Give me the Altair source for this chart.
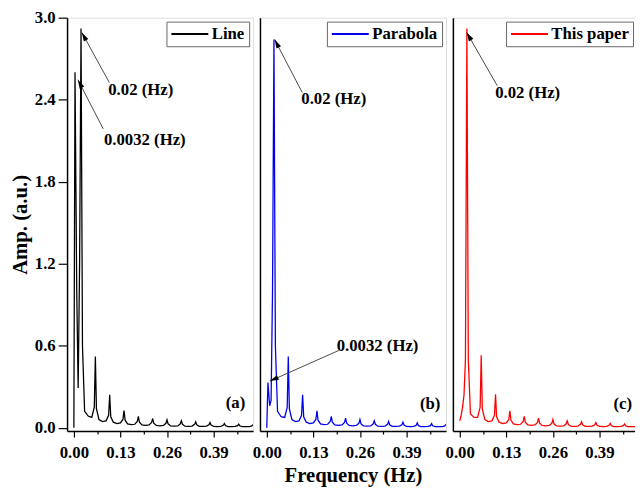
import math
import altair as alt
import pandas as pd

FONT = "Liberation Serif"

# ---------------- data ----------------
freq = [0.0, 0.0032, 0.008, 0.012, 0.016, 0.02, 0.024, 0.03, 0.04,
        0.05, 0.057, 0.06, 0.063, 0.07, 0.08,
        0.09, 0.097, 0.10, 0.103, 0.11, 0.12,
        0.13, 0.137, 0.14, 0.143, 0.15, 0.16,
        0.17, 0.177, 0.18, 0.183, 0.19, 0.20,
        0.21, 0.217, 0.22, 0.223, 0.23, 0.24,
        0.25, 0.257, 0.26, 0.263, 0.27, 0.28,
        0.29, 0.297, 0.30, 0.303, 0.31, 0.32,
        0.33, 0.337, 0.34, 0.343, 0.35, 0.36,
        0.37, 0.377, 0.38, 0.383, 0.39, 0.40,
        0.41, 0.417, 0.42, 0.423, 0.43, 0.44,
        0.45, 0.457, 0.46, 0.463, 0.47, 0.48,
        0.49, 0.497, 0.50]

amp_line = [0.0, 2.60, 1.00, 0.29, 1.20, 2.92, 0.60, 0.12, 0.085,
            0.075, 0.15, 0.52, 0.14, 0.06, 0.045,
            0.05, 0.09, 0.24, 0.08, 0.04, 0.03,
            0.035, 0.06, 0.125, 0.055, 0.028, 0.022,
            0.025, 0.045, 0.083, 0.04, 0.02, 0.017,
            0.02, 0.038, 0.067, 0.033, 0.016, 0.014,
            0.016, 0.032, 0.058, 0.028, 0.013, 0.011,
            0.013, 0.028, 0.05, 0.025, 0.011, 0.01,
            0.012, 0.024, 0.043, 0.021, 0.01, 0.009,
            0.011, 0.021, 0.037, 0.019, 0.009, 0.008,
            0.01, 0.018, 0.031, 0.016, 0.008, 0.007,
            0.009, 0.015, 0.026, 0.014, 0.008, 0.007,
            0.008, 0.013, 0.022]

amp_parabola = [0.0, 0.33, 0.16, 0.20, 1.00, 2.84, 0.60, 0.12, 0.08,
                0.075, 0.15, 0.52, 0.14, 0.06, 0.045,
                0.05, 0.09, 0.24, 0.08, 0.04, 0.03,
                0.035, 0.06, 0.124, 0.055, 0.028, 0.022,
                0.025, 0.045, 0.083, 0.04, 0.02, 0.017,
                0.02, 0.038, 0.07, 0.033, 0.016, 0.014,
                0.016, 0.032, 0.06, 0.028, 0.013, 0.011,
                0.013, 0.028, 0.05, 0.025, 0.011, 0.01,
                0.012, 0.024, 0.045, 0.021, 0.01, 0.009,
                0.011, 0.021, 0.04, 0.019, 0.009, 0.008,
                0.01, 0.018, 0.035, 0.016, 0.008, 0.007,
                0.009, 0.015, 0.03, 0.014, 0.008, 0.007,
                0.008, 0.013, 0.025]

amp_paper = [0.05, 0.08, 0.15, 0.24, 0.50, 2.92, 0.50, 0.10, 0.075,
             0.075, 0.15, 0.53, 0.14, 0.06, 0.045,
             0.05, 0.09, 0.245, 0.08, 0.04, 0.03,
             0.035, 0.06, 0.124, 0.055, 0.028, 0.022,
             0.025, 0.045, 0.083, 0.04, 0.02, 0.017,
             0.02, 0.038, 0.07, 0.033, 0.016, 0.014,
             0.016, 0.032, 0.06, 0.028, 0.013, 0.011,
             0.013, 0.028, 0.05, 0.025, 0.011, 0.01,
             0.012, 0.024, 0.043, 0.021, 0.01, 0.009,
             0.011, 0.021, 0.037, 0.019, 0.009, 0.008,
             0.01, 0.018, 0.032, 0.016, 0.008, 0.007,
             0.009, 0.015, 0.027, 0.014, 0.008, 0.007,
             0.008, 0.013, 0.022]

series_names = ["Line", "Parabola", "This paper"]
series_colors = ["#000000", "#0000ee", "#ff0000"]
panel_labels = ["(a)", "(b)", "(c)"]

# annotations: text, text position, arrow tail, arrow tip (data units)
ann_a_text = ["0.02 (Hz)", "0.0032 (Hz)"]
ann_a_tx = [0.096, 0.084]
ann_a_ty = [2.467, 2.107]
ann_a_x0 = [0.099, 0.082]
ann_a_y0 = [2.525, 2.186]
ann_a_x1 = [0.0222, 0.0112]
ann_a_y1 = [2.892, 2.546]

ann_b_text = ["0.02 (Hz)", "0.0032 (Hz)"]
ann_b_tx = [0.0964, 0.195]
ann_b_ty = [2.402, 0.594]
ann_b_x0 = [0.099, 0.201]
ann_b_y0 = [2.452, 0.565]
ann_b_x1 = [0.022, 0.0085]
ann_b_y1 = [2.84, 0.341]

ann_c_text = ["0.02 (Hz)"]
ann_c_tx = [0.099]
ann_c_ty = [2.445]
ann_c_x0 = [0.1046]
ann_c_y0 = [2.503]
ann_c_x1 = [0.0195]
ann_c_y1 = [2.892]

label_x = [0.451, 0.456, 0.455]
label_y = [0.183, 0.176, 0.176]

x_ticks = [0.0, 0.065, 0.13, 0.195, 0.26, 0.325, 0.39, 0.455]
y_ticks = [0.0, 0.6, 1.2, 1.8, 2.4, 3.0]

# ---------------- layout ----------------
XMIN = -0.019
YMIN, YMAX = -0.025, 3.0
H = 420
widths = [189, 189, 187]
xmaxes = [XMIN + w / 364.0 for w in widths]

MAJOR_TEST = "round(datum.value*1000) % 130 == 0"


def make_panel(i, amps, ann, show_y, x_title):
    name = series_names[i]
    color = series_colors[i]
    xs = alt.Scale(domain=[XMIN, xmaxes[i]], nice=False, zero=False)
    ys = alt.Scale(domain=[YMIN, YMAX], nice=False, zero=False)
    kx = widths[i] / (xmaxes[i] - XMIN)
    ky = H / (YMAX - YMIN)

    xaxis_args = dict(
        values=x_ticks, labelExpr=MAJOR_TEST + " ? format(datum.value, '.2f') : ''",
        tickSize={"condition": {"test": MAJOR_TEST, "value": 6}, "value": 3},
        labelOverlap=False, labelFlush=False, labelPadding=8,
        labelFont=FONT, labelFontSize=17, labelFontWeight="bold", labelColor="black",
        domainColor="black", domainWidth=1.5, tickColor="black", tickWidth=1.2, grid=False,
    )
    if x_title:
        xaxis = alt.Axis(title=x_title, titleFont=FONT, titleFontSize=21, titleFontWeight="bold",
                         titleColor="black", titlePadding=4, **xaxis_args)
    else:
        xaxis = alt.Axis(title=None, **xaxis_args)

    if show_y:
        yaxis = alt.Axis(values=y_ticks, format=".1f", title="Amp. (a.u.)", tickSize=9,
                         labelPadding=3, labelFont=FONT, labelFontSize=17, labelFontWeight="bold",
                         labelColor="black", titleFont=FONT, titleFontSize=21, titleFontWeight="bold",
                         titleColor="black", titlePadding=4, domainColor="black", domainWidth=1.5,
                         tickColor="black", tickWidth=1.2, grid=False)
    else:
        yaxis = alt.Axis(title=None, labels=False, ticks=False, domainColor="black",
                         domainWidth=1.5, grid=False)

    def X(field):
        return alt.X(field, scale=xs, axis=xaxis)

    def Y(field):
        return alt.Y(field, scale=ys, axis=yaxis)

    df = pd.DataFrame({"f": freq, "amp": amps, "series": name})
    line = alt.Chart(df).mark_line(strokeWidth=1.3, clip=True).encode(
        x=X("f:Q"),
        y=Y("amp:Q"),
        color=alt.Color("series:N", scale=alt.Scale(domain=[name], range=[color]),
                        legend=alt.Legend(title=None, orient="top-right", offset=4,
                                          strokeColor="#666666", fillColor="white", padding=4,
                                          symbolType="M-1,0L4,0", symbolSize=225,
                                          symbolStrokeWidth=2, labelFont=FONT,
                                          labelFontSize=17, labelFontWeight="bold",
                                          labelColor="black", labelOffset=25, cornerRadius=0)),
    )

    text, tx, ty, x0, y0, x1, y1 = ann
    angles = []
    for a, b, c, d in zip(x0, y0, x1, y1):
        dx = (c - a) * kx
        dy = -(d - b) * ky
        angles.append(math.degrees(math.atan2(dx, -dy)) % 360)
    adf = pd.DataFrame({"text": text, "tx": tx, "ty": ty, "x0": x0, "y0": y0,
                        "x1": x1, "y1": y1, "ang": angles})

    rules = alt.Chart(adf).mark_rule(color="#333333", strokeWidth=0.9).encode(
        x=X("x0:Q"), y=Y("y0:Q"), x2="x1:Q", y2="y1:Q")
    heads = alt.Chart(adf).mark_point(
        shape="M0,0L0.55,1.9L-0.55,1.9Z", filled=True, color="black", size=90, opacity=1
    ).encode(x=X("x1:Q"), y=Y("y1:Q"), angle=alt.Angle("ang:Q", scale=None))
    texts = alt.Chart(adf).mark_text(
        align="left", baseline="middle", font=FONT, fontSize=17, fontWeight="bold", color="black"
    ).encode(x=X("tx:Q"), y=Y("ty:Q"), text="text:N")

    ldf = pd.DataFrame({"lx": [label_x[i]], "ly": [label_y[i]], "lab": [panel_labels[i]]})
    lab = alt.Chart(ldf).mark_text(
        align="center", baseline="middle", font=FONT, fontSize=17, fontWeight="bold", color="black"
    ).encode(x=X("lx:Q"), y=Y("ly:Q"), text="lab:N")

    return alt.layer(line, rules, heads, texts, lab).properties(width=widths[i], height=H)


pa = make_panel(0, amp_line, (ann_a_text, ann_a_tx, ann_a_ty, ann_a_x0, ann_a_y0, ann_a_x1, ann_a_y1), True, None)
pb = make_panel(1, amp_parabola, (ann_b_text, ann_b_tx, ann_b_ty, ann_b_x0, ann_b_y0, ann_b_x1, ann_b_y1), False, "Frequency (Hz)")
pc = make_panel(2, amp_paper, (ann_c_text, ann_c_tx, ann_c_ty, ann_c_x0, ann_c_y0, ann_c_x1, ann_c_y1), False, None)

chart = alt.hconcat(pa, pb, pc, spacing=7, bounds="flush").resolve_scale(
    color="independent", x="independent"
).resolve_legend(color="independent").properties(
    padding={"left": 1, "top": -4, "right": -3, "bottom": 0}
).configure_view(stroke="#b5b5b5", strokeWidth=1.5).configure(background="white")

chart.save("out.html", embed_options={"renderer": "svg", "actions": False})
